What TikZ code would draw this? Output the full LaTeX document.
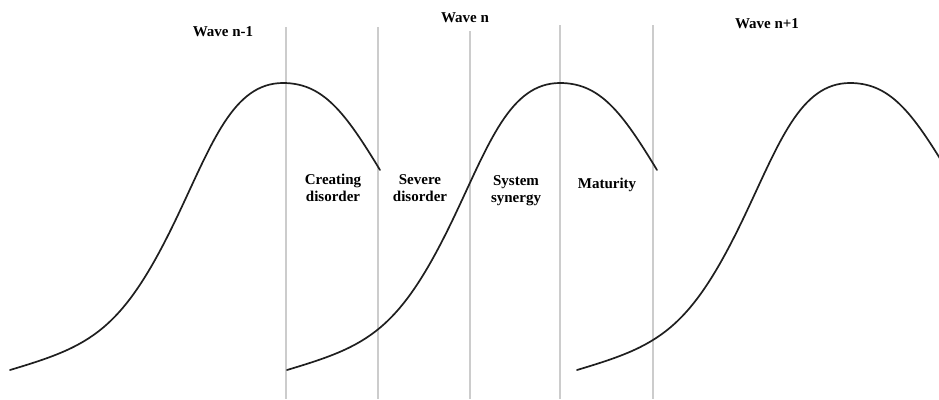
\documentclass[tikz,border=0pt]{standalone}
\usepackage{fontspec}
\setmainfont{Liberation Serif}
\begin{document}
\begin{tikzpicture}[x=1pt,y=-1pt,
  divider/.style={draw=black!20,line width=1.3pt},
  wavecurve/.style={draw=black!88,line width=1.7pt,line cap=round},
  lbl/.style={font=\fontsize{15}{16.5}\selectfont\bfseries,align=center,inner sep=0pt,anchor=base},
  phase/.style={lbl}]
\useasboundingbox (0,0) rectangle (939,399);
% vertical dividers
\foreach \x/\t [count=\i] in {286/27,378/27,470/31,560/25,653/25}{
  \coordinate (t\i) at (\x,\t);
  \coordinate (b\i) at (\x,399);
  \draw[divider] (t\i) -- (b\i);
}
% waves
\foreach \s in {0,277,567}{
  \begin{scope}[xshift=\s]
  \draw[wavecurve] (10,370) .. controls (90,346) and (122,332.5) .. (177,217)
     .. controls (212,143.5) and (233,83) .. (283,83)
     .. controls (323,83) and (345,112.25) .. (380,170);
  \end{scope}
}
% titles
\node[lbl] (w1) at (223,36) {Wave n-1};
\node[lbl] (w2) at (465,22) {Wave n};
\node[lbl] (w3) at (767,28) {Wave n+1};
% phases
\node[phase] (p1) at (333,201) {Creating\\disorder};
\node[phase] (p2) at (420,201) {Severe\\disorder};
\node[phase] (p3) at (516,202) {System\\synergy};
\node[phase] (p4) at (607,188) {Maturity};
\end{tikzpicture}
\end{document}
